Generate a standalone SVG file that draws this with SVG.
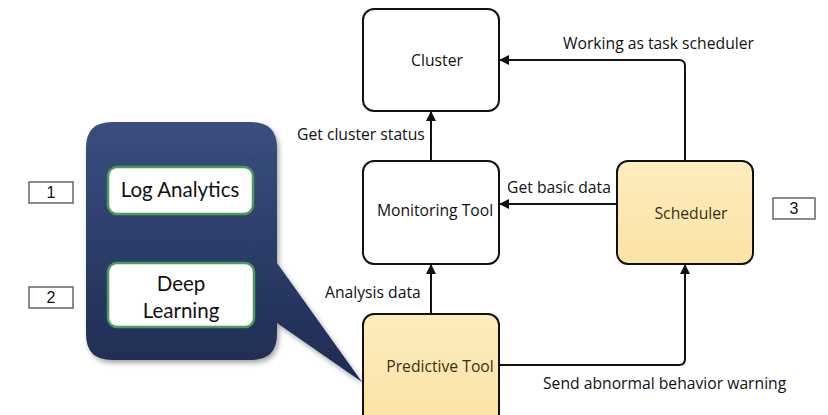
<svg xmlns="http://www.w3.org/2000/svg" width="828" height="415" viewBox="0 0 828 415">
  <style>
    .lbl { font-family: "Open Sans", "Liberation Sans", sans-serif; font-size: 15.7px; fill: #111; }
    .node { stroke: #111; stroke-width: 2; }
    .plain { fill: #fff; }
    .warm { fill: url(#warmFill); }
    .warmtxt { font-family: "Open Sans", "Liberation Sans", sans-serif; font-size: 15.7px; fill: #3a3010; text-anchor: middle; }
    .inner { fill: #fff; stroke: #4e9a5a; stroke-width: 2.5; }
    .gill { font-family: "Lato", "Liberation Sans", sans-serif; font-size: 20.5px; fill: #111; text-anchor: middle; }
    .num { fill: #fff; stroke: #666; stroke-width: 1.5; }
    .numtxt { font-family: "Liberation Sans", sans-serif; font-size: 16px; fill: #111; text-anchor: middle; }
    .conn { fill: none; stroke: #111; stroke-width: 2; marker-end: url(#arrow); }
  </style>
  <defs>
    <marker id="arrow" viewBox="0 0 10 10" refX="9" refY="5" markerWidth="5" markerHeight="5" orient="auto" markerUnits="strokeWidth">
      <path d="M0,0 L10,5 L0,10 z" fill="#111"/>
    </marker>
    <linearGradient id="warmFill" x1="0" y1="0" x2="0" y2="1">
      <stop offset="0" stop-color="#fdecbf"/>
      <stop offset="1" stop-color="#fbe3a6"/>
    </linearGradient>
    <linearGradient id="navy" x1="0" y1="0" x2="0" y2="1">
      <stop offset="0" stop-color="#3a4f7e"/>
      <stop offset="1" stop-color="#1d2b52"/>
    </linearGradient>
    <filter id="shadow" x="-10%" y="-10%" width="130%" height="130%">
      <feDropShadow dx="2" dy="3" stdDeviation="2.5" flood-color="#000" flood-opacity="0.35"/>
    </filter>
  </defs>

  <!-- callout bubble holding the analysis methods -->
  <g id="callout">
    <path filter="url(#shadow)" fill="url(#navy)" d="M112,122 H251 Q277,122 277,148 V263 L362,382 L277,323 V334 Q277,360 251,360 H112 Q86,360 86,334 V148 Q86,122 112,122 Z"/>
  </g>
  <g id="log-analytics">
    <rect class="inner" x="108" y="167" width="145" height="47" rx="9"/>
    <text class="gill" x="180" y="197">Log Analytics</text>
  </g>
  <g id="deep-learning">
    <rect class="inner" x="108" y="263" width="146" height="64" rx="9"/>
    <text class="gill" x="181" y="291">Deep</text>
    <text class="gill" x="181" y="318">Learning</text>
  </g>

  <!-- numbered tags -->
  <g id="tag-1">
    <rect class="num" x="29" y="182" width="44" height="21"/>
    <text class="numtxt" x="51" y="198">1</text>
  </g>
  <g id="tag-2">
    <rect class="num" x="29" y="287" width="44" height="21"/>
    <text class="numtxt" x="51" y="303">2</text>
  </g>
  <g id="tag-3">
    <rect class="num" x="773" y="198" width="42" height="21"/>
    <text class="numtxt" x="794" y="214">3</text>
  </g>

  <!-- system nodes -->
  <g id="cluster">
    <rect class="node plain" x="363" y="9" width="136" height="102" rx="11"/>
    <text class="lbl" x="437" y="66" text-anchor="middle">Cluster</text>
  </g>
  <g id="monitoring-tool">
    <rect class="node plain" x="363" y="161" width="136" height="103" rx="11"/>
    <text class="lbl" x="435" y="216" text-anchor="middle">Monitoring Tool</text>
  </g>
  <g id="scheduler">
    <rect class="node warm" x="617" y="161" width="136" height="103" rx="11"/>
    <text class="warmtxt" x="691" y="219">Scheduler</text>
  </g>
  <g id="predictive-tool">
    <rect class="node warm" x="363" y="314" width="136" height="112" rx="11"/>
    <text class="warmtxt" x="440" y="372">Predictive Tool</text>
  </g>

  <!-- connectors -->
  <g id="connectors">
    <path class="conn" d="M431,161 V112"/>
    <path class="conn" d="M431,314 V265"/>
    <path class="conn" d="M617,204 H500"/>
    <path class="conn" d="M685,161 V66 Q685,60 679,60 H500"/>
    <path class="conn" d="M499,365 H679 Q685,365 685,359 V265"/>
  </g>

  <!-- connector labels -->
  <g id="labels">
    <text class="lbl" x="563" y="49">Working as task scheduler</text>
    <text class="lbl" x="297" y="140">Get cluster status</text>
    <text class="lbl" x="507" y="193">Get basic data</text>
    <text class="lbl" x="325" y="298">Analysis data</text>
    <text class="lbl" x="543" y="389">Send abnormal behavior warning</text>
  </g>
</svg>
